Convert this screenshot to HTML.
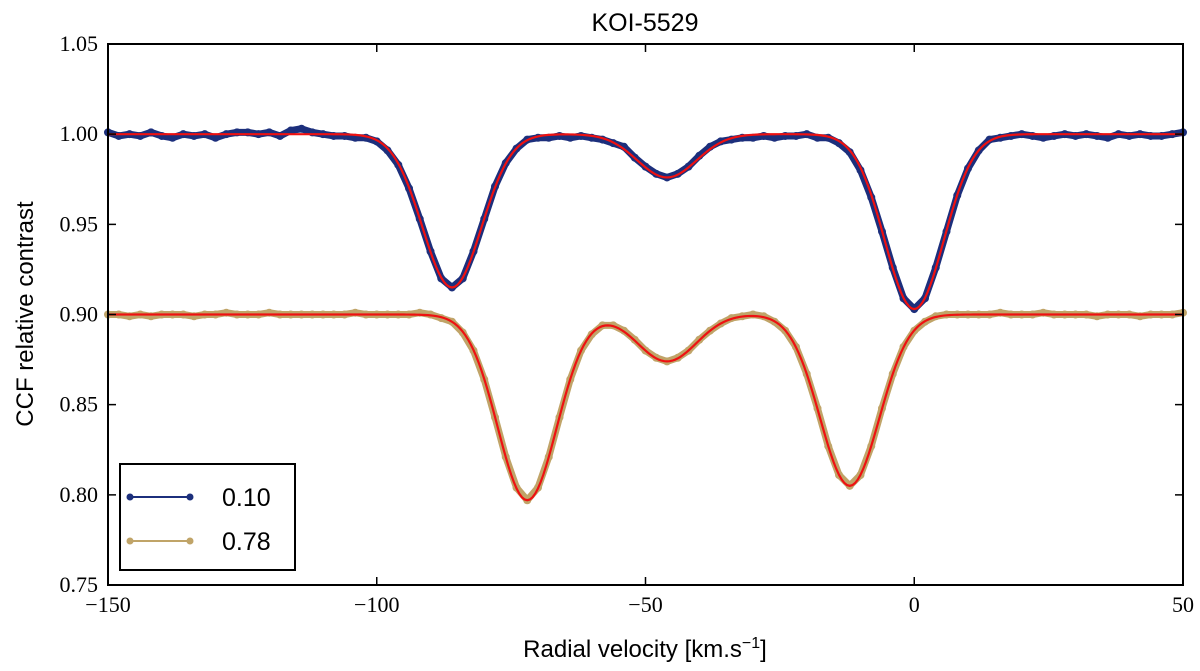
<!DOCTYPE html>
<html><head><meta charset="utf-8"><style>
body{margin:0;background:#fff;}
svg{display:block;}
</style></head><body>
<svg id="chart" width="1200" height="671" xmlns="http://www.w3.org/2000/svg">
<text x="645" y="31" font-family="Liberation Sans, sans-serif" font-size="25" text-anchor="middle">KOI-5529</text>
<g id="plot"></g>
<text x="645" y="657" font-family="Liberation Sans, sans-serif" font-size="24" text-anchor="middle">Radial velocity [km.s<tspan dy="-9" font-size="16">−1</tspan><tspan dy="9">]</tspan></text>
<text transform="translate(33,314) rotate(-90)" font-family="Liberation Sans, sans-serif" font-size="24" text-anchor="middle">CCF relative contrast</text>
</svg>
<script>
const xTicks=[-150,-100,-50,0,50];
const yTicks=[0.75,0.80,0.85,0.90,0.95,1.00,1.05];
const yTickLabels=["0.75","0.80","0.85","0.90","0.95","1.00","1.05"];
const velocities=[-150,-148,-146,-144,-142,-140,-138,-136,-134,-132,-130,-128,-126,-124,-122,-120,-118,-116,-114,-112,-110,-108,-106,-104,-102,-100,-98,-96,-94,-92,-90,-88,-86,-84,-82,-80,-78,-76,-74,-72,-70,-68,-66,-64,-62,-60,-58,-56,-54,-52,-50,-48,-46,-44,-42,-40,-38,-36,-34,-32,-30,-28,-26,-24,-22,-20,-18,-16,-14,-12,-10,-8,-6,-4,-2,0,2,4,6,8,10,12,14,16,18,20,22,24,26,28,30,32,34,36,38,40,42,44,46,48,50];
const series010=[1.001,0.999,1.000,0.999,1.001,0.999,0.998,1.000,0.999,1.000,0.998,1.000,1.001,1.001,1.000,1.001,0.999,1.002,1.003,1.001,1.000,0.999,0.999,0.998,0.998,0.996,0.991,0.983,0.970,0.953,0.935,0.920,0.915,0.920,0.935,0.953,0.971,0.984,0.992,0.997,0.998,0.998,0.999,0.998,0.999,0.998,0.997,0.995,0.993,0.987,0.982,0.978,0.976,0.978,0.982,0.988,0.993,0.996,0.997,0.998,0.998,0.999,0.998,0.999,0.999,1.000,0.998,0.998,0.995,0.990,0.980,0.965,0.946,0.926,0.909,0.903,0.909,0.926,0.946,0.966,0.981,0.991,0.997,0.998,0.999,1.000,0.999,0.998,0.999,1.000,0.999,1.000,0.999,0.998,1.000,0.999,1.000,0.999,0.999,1.000,1.001];
const series078=[0.900,0.900,0.899,0.900,0.899,0.900,0.900,0.900,0.899,0.900,0.900,0.901,0.900,0.900,0.900,0.901,0.900,0.900,0.900,0.900,0.900,0.900,0.900,0.901,0.900,0.900,0.900,0.900,0.900,0.901,0.900,0.898,0.896,0.890,0.880,0.864,0.843,0.821,0.804,0.797,0.804,0.821,0.843,0.864,0.880,0.889,0.894,0.894,0.891,0.886,0.880,0.876,0.874,0.876,0.880,0.886,0.891,0.895,0.898,0.899,0.900,0.899,0.896,0.891,0.882,0.867,0.848,0.827,0.811,0.805,0.811,0.827,0.848,0.867,0.882,0.891,0.896,0.899,0.900,0.900,0.900,0.900,0.900,0.901,0.900,0.900,0.900,0.901,0.900,0.900,0.900,0.900,0.899,0.900,0.900,0.900,0.899,0.900,0.900,0.900,0.901];
const fitBaselines=[1.0,0.9];
const fitCenters=[[-86,-46,0],[-72,-46,-12]];
const fitDepths=[[0.085,0.024,0.097],[0.103,0.026,0.095]];
const fitWidths=[[5.5,5.5,5.5],[5.5,5.5,5.5]];

const X0=108,X1=1183,Y0=585,Y1=44;
const xs=v=>X0+(v+150)/200*(X1-X0);
const ys=v=>Y0-(v-0.75)/0.30*(Y0-Y1);
const NS="http://www.w3.org/2000/svg";
const plot=document.getElementById('plot');
function mk(tag,attrs,parent){const e=document.createElementNS(NS,tag);for(const k in attrs)e.setAttribute(k,attrs[k]);(parent||plot).appendChild(e);return e;}

function drawSeries(vals,color,name){
  const g=mk('g',{});
  
  
  const pts=velocities.map((v,i)=>xs(v)+','+ys(vals[i])).join(' ');
  const pl=mk('polyline',{points:pts,fill:'none',stroke:color,'stroke-width':7,'stroke-linejoin':'round','stroke-linecap':'round'},g);
  
  
  velocities.forEach((v,i)=>{
    const c=mk('circle',{cx:xs(v),cy:ys(vals[i]),r:4,fill:color},g);
    
    
  });
}
drawSeries(series010,'#1c2f7c','series-0-10');
drawSeries(series078,'#c0a468','series-0-78');

for(let s=0;s<2;s++){
  const pts=[];
  for(let v=-150;v<=50;v+=0.5){
    let y=fitBaselines[s];
    for(let k=0;k<fitCenters[s].length;k++){const u=v-fitCenters[s][k];y-=fitDepths[s][k]*Math.exp(-u*u/(2*fitWidths[s][k]*fitWidths[s][k]));}
    pts.push(xs(v)+','+ys(y));
  }
  const f=mk('polyline',{points:pts.join(' '),fill:'none',stroke:'#ee1111','stroke-width':2.2});
  
  
}

const frame=mk('rect',{x:X0,y:Y1,width:X1-X0,height:Y0-Y1,fill:'none',stroke:'#000','stroke-width':2});



xTicks.forEach(t=>{
  const x=xs(t);
  const l=mk('path',{d:`M${x},${Y0}v-8M${x},${Y1}v8`,stroke:'#000','stroke-width':1.5});
  
  
  const tx=mk('text',{x:x,y:612,'font-family':'Liberation Serif, serif','font-size':22,'text-anchor':'middle'});
  tx.textContent=(t<0?'−':'')+Math.abs(t);
  
  
});
yTicks.forEach((t,i)=>{
  const y=ys(t);
  const l=mk('path',{d:`M${X0},${y}h8M${X1},${y}h-8`,stroke:'#000','stroke-width':1.5});
  
  
  const tx=mk('text',{x:98,y:y+7,'font-family':'Liberation Serif, serif','font-size':22,'text-anchor':'end'});
  tx.textContent=yTickLabels[i];
  
  
});

const lg=mk('g',{});


mk('rect',{x:120,y:464,width:175,height:106,fill:'#fff',stroke:'#000','stroke-width':2},lg);
[['0.10','#1c2f7c',497],['0.78','#c0a468',541]].forEach(([lab,c,y])=>{
  const e=mk('g',{},lg);
  
  
  mk('line',{x1:130,x2:190,y1:y,y2:y,stroke:c,'stroke-width':2},e);
  mk('circle',{cx:130,cy:y,r:3.5,fill:c},e);
  mk('circle',{cx:190,cy:y,r:3.5,fill:c},e);
  const t=mk('text',{x:222,y:y+9,'font-family':'Liberation Sans, sans-serif','font-size':25},e);
  t.textContent=lab;
});
</script>
</body></html>
